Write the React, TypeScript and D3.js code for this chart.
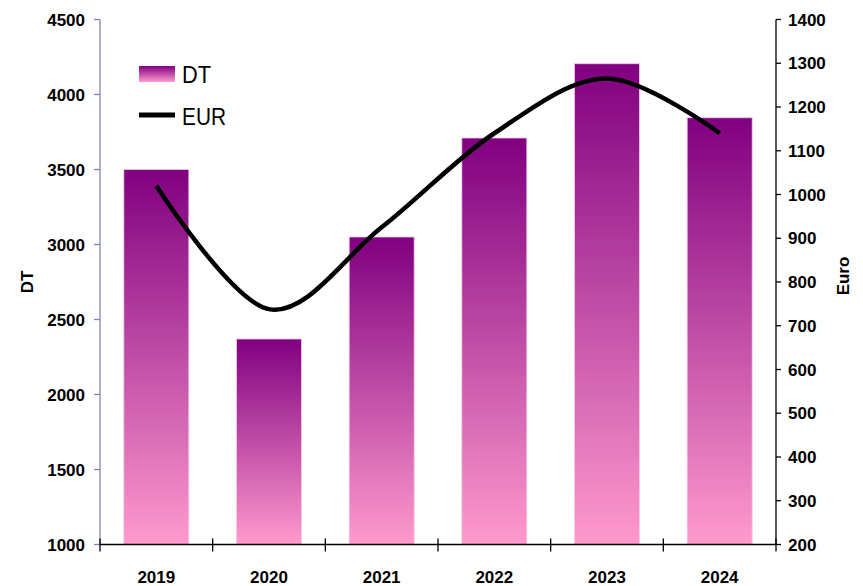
import * as d3 from 'd3';

const years = ['2019', '2020', '2021', '2022', '2023', '2024'];
const dtValues = [3500, 2370, 3050, 3710, 4205, 3845];
const eurValues = [1020, 738, 925, 1140, 1265, 1140];
const leftTicks = [1000, 1500, 2000, 2500, 3000, 3500, 4000, 4500];
const rightTicks = [200, 300, 400, 500, 600, 700, 800, 900, 1000, 1100, 1200, 1300, 1400];

const W = 863;
const H = 586;
const left = 100;
const right = 776;
const top = 19.5;
const bottom = 544.5;
const font = '"Liberation Sans", Arial, sans-serif';

export default function App() {
  // bands run from axis to axis, bar takes ~58% of each band
  const x = d3.scaleBand<string>().domain(years).range([left, right]).paddingInner(0.423).paddingOuter(0.2115);
  const step = (right - left) / years.length;
  const yL = d3.scaleLinear().domain([1000, 4500]).range([bottom, top]);
  const yR = d3.scaleLinear().domain([200, 1400]).range([bottom, top]);

  const line = d3.line<number>()
    .x((_, i) => x(years[i])! + x.bandwidth() / 2)
    .y(d => yR(d))
    .curve(d3.curveCardinal.tension(0));

  const bandEdges = d3.range(years.length + 1).map(i => left + i * step);

  return (
    <svg width={W} height={H} style={{ position: 'absolute', left: 0, top: 0, background: '#fff' }}>
      <defs>
        <linearGradient id="barGrad" x1="0" y1="0" x2="0" y2="1">
          <stop offset="0" stopColor="#800080" />
          <stop offset="1" stopColor="#FF9ACD" />
        </linearGradient>
      </defs>

      {/* bars */}
      {dtValues.map((v, i) => (
        <rect
          key={years[i]}
          x={x(years[i])}
          y={yL(v)}
          width={x.bandwidth()}
          height={bottom - yL(v)}
          fill="url(#barGrad)"
          stroke="#f3cbe8"
          strokeWidth={0.8}
        />
      ))}

      {/* EUR line */}
      <path d={line(eurValues) || ''} fill="none" stroke="#000" strokeWidth={4.5} strokeLinejoin="round" />

      {/* left axis */}
      <line x1={left} x2={left} y1={top} y2={bottom} stroke="#8484bc" strokeWidth={1.3} />
      {leftTicks.map(t => (
        <g key={t}>
          <line x1={left - 6} x2={left} y1={yL(t)} y2={yL(t)} stroke="#8484bc" strokeWidth={1.3} />
          <text x={85} y={yL(t)} dy="0.36em" textAnchor="end" fontFamily={font} fontWeight="bold" fontSize={17}>{t}</text>
        </g>
      ))}

      {/* right axis */}
      <line x1={right} x2={right} y1={top} y2={bottom} stroke="#000" strokeWidth={1.3} />
      {rightTicks.map(t => (
        <g key={t}>
          <line x1={right} x2={right + 5} y1={yR(t)} y2={yR(t)} stroke="#000" strokeWidth={1.3} />
          <text x={788} y={yR(t)} dy="0.36em" fontFamily={font} fontWeight="bold" fontSize={17}>{t}</text>
        </g>
      ))}

      {/* bottom axis */}
      <line x1={left} x2={right} y1={bottom} y2={bottom} stroke="#000" strokeWidth={1.5} />
      {bandEdges.map((e, i) => (
        <line key={i} x1={e} x2={e} y1={bottom - 6} y2={bottom + 7} stroke="#000" strokeWidth={1.3} />
      ))}
      {years.map(yr => (
        <text key={yr} x={x(yr)! + x.bandwidth() / 2} y={583} textAnchor="middle" fontFamily={font} fontWeight="bold" fontSize={17}>{yr}</text>
      ))}

      {/* axis titles */}
      <text transform="translate(33,282) rotate(-90)" textAnchor="middle" fontFamily={font} fontWeight="bold" fontSize={17}>DT</text>
      <text transform="translate(849,276) rotate(-90)" textAnchor="middle" fontFamily={font} fontWeight="bold" fontSize={17}>Euro</text>

      {/* legend */}
      <rect x={139} y={66} width={36} height={16} fill="url(#barGrad)" />
      <text x={182} y={82.5} fontFamily={font} fontSize={24} textLength={29} lengthAdjust="spacingAndGlyphs">DT</text>
      <line x1={139} x2={175} y1={115} y2={115} stroke="#000" strokeWidth={5} />
      <text x={182} y={125} fontFamily={font} fontSize={24} textLength={44} lengthAdjust="spacingAndGlyphs">EUR</text>
    </svg>
  );
}
